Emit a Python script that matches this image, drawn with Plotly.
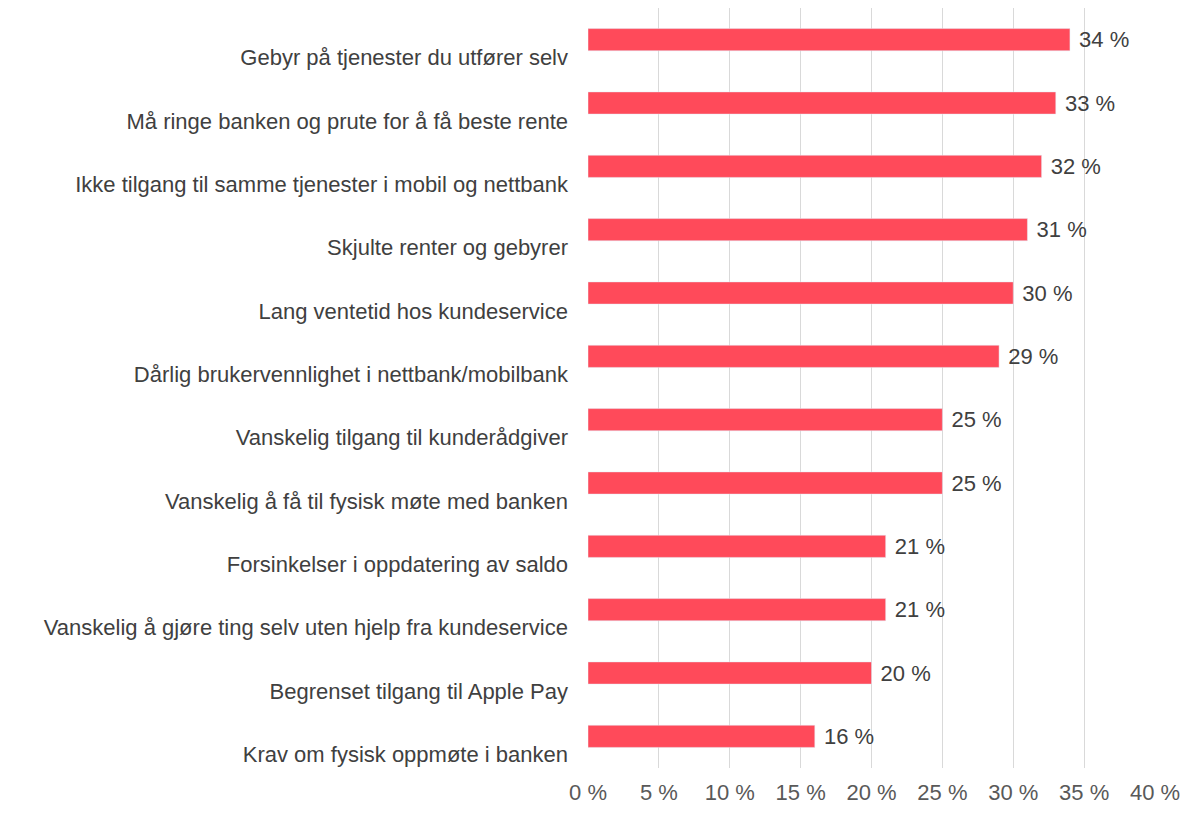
import plotly.graph_objects as go

# categories top to bottom
categories = [
    "Gebyr på tjenester du utfører selv",
    "Må ringe banken og prute for å få beste rente",
    "Ikke tilgang til samme tjenester i mobil og nettbank",
    "Skjulte renter og gebyrer",
    "Lang ventetid hos kundeservice",
    "Dårlig brukervennlighet i nettbank/mobilbank",
    "Vanskelig tilgang til kunderådgiver",
    "Vanskelig å få til fysisk møte med banken",
    "Forsinkelser i oppdatering av saldo",
    "Vanskelig å gjøre ting selv uten hjelp fra kundeservice",
    "Begrenset tilgang til Apple Pay",
    "Krav om fysisk oppmøte i banken",
]
values = [34, 33, 32, 31, 30, 29, 25, 25, 21, 21, 20, 16]
tick_vals = [0, 5, 10, 15, 20, 25, 30, 35, 40]
tick_text = [f"{v} %" for v in tick_vals]

fig = go.Figure()
fig.add_trace(
    go.Bar(
        y=categories,
        x=values,
        orientation="h",
        width=0.35,
        marker_color="#FF4A5A",
        text=[f" {v} %" for v in values],
        textposition="outside",
        constraintext="none",
        textfont=dict(size=22, color="#404040"),
        cliponaxis=False,
        hoverinfo="skip",
    )
)

# page body has an 8px margin, so the figure is a bit smaller than the window
fig.update_layout(
    width=1192,
    height=819,
    margin=dict(l=580, r=45, t=0, b=59),
    plot_bgcolor="white",
    paper_bgcolor="white",
    font=dict(family="Liberation Sans, Arial, sans-serif", size=22, color="#404040"),
    showlegend=False,
)

fig.update_xaxes(
    range=[0, 40],
    tickvals=tick_vals,
    ticktext=tick_text,
    showgrid=True,
    gridcolor="#D9D9D9",
    gridwidth=1,
    zeroline=False,
    showline=False,
    tickfont=dict(size=22, color="#595959"),
    ticklabelstandoff=9,
)
fig.update_yaxes(
    categoryorder="array",
    categoryarray=categories[::-1],
    showgrid=False,
    zeroline=False,
    showline=False,
    tickfont=dict(size=22, color="#404040"),
    ticklabelstandoff=19,
    ticklabelshift=18,
)

fig.write_html("out.html")
